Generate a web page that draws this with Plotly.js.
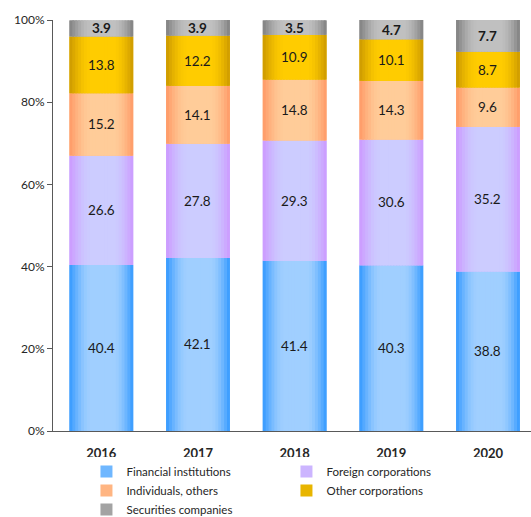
<!DOCTYPE html>
<html><head><meta charset="utf-8">
<script src="https://cdn.plot.ly/plotly-3.0.1.min.js"></script>
<style>html,body{margin:0;padding:0;background:#fff}#chart{width:531px;height:517px}</style>
</head><body><div id="chart"></div>
<script>
const years = ['2016', '2017', '2018', '2019', '2020'];
const financialInstitutions = [40.4, 42.1, 41.4, 40.3, 38.8];
const foreignCorporations = [26.6, 27.8, 29.3, 30.6, 35.2];
const individualsOthers = [15.2, 14.1, 14.8, 14.3, 9.6];
const otherCorporations = [13.8, 12.2, 10.9, 10.1, 8.7];
const securitiesCompanies = [3.9, 3.9, 3.5, 4.7, 7.7];
const seriesNames = ['Financial institutions', 'Foreign corporations', 'Individuals, others', 'Other corporations', 'Securities companies'];
const yTickVals = [0, 20, 40, 60, 80, 100];
const yTickText = ['0%', '20%', '40%', '60%', '80%', '100%'];
const seriesValues = [financialInstitutions, foreignCorporations, individualsOthers, otherCorporations, securitiesCompanies];

// style: [edge colour, centre colour] of each bar's horizontal gradient
const gradients = [
  [[51,153,255],[160,207,255]],
  [[204,153,255],[204,204,255]],
  [[255,153,102],[255,204,153]],
  [[204,153,0],[255,204,0]],
  [[128,128,128],[192,192,192]]
];
const BAR_W = 0.66, STRIPES = 22;
function rgb(c){return 'rgb('+c.map(Math.round).join(',')+')';}
function mix(a,b,f){return a.map((v,i)=>v+(b[i]-v)*f);}
function profile(t){ if(t<0.35) return Math.sin(t/0.35*Math.PI/2); if(t>0.68) return Math.sin((1-t)/0.32*Math.PI/2); return 1; }

const traces = [];
const annotations = [];
const cum = years.map(()=>0);
seriesValues.forEach((vals, s) => {
  const base = cum.slice();
  const g = gradients[s];
  traces.push({type:'bar', x:years, y:vals, base:base, name:seriesNames[s],
    width:BAR_W, marker:{color:rgb(mix(g[0],g[1],0.55)), line:{width:0}}, hoverinfo:'skip'});
  const w = BAR_W/STRIPES;
  for (let i=0;i<STRIPES;i++){
    const t=(i+0.5)/STRIPES;
    traces.push({type:'bar', x:years, y:vals, base:base, showlegend:false,
      width: i<STRIPES-1 ? w*1.6 : w, offset: -BAR_W/2 + i*w,
      marker:{color:rgb(mix(g[0],g[1],profile(t))), line:{width:0}}, hoverinfo:'skip'});
  }
  vals.forEach((v,k)=>{
    annotations.push({x:k, y:base[k]+v/2, xref:'x', yref:'y', showarrow:false,
      text: s===4 ? '<b>'+v.toFixed(1)+'</b>' : v.toFixed(1),
      font:{family:'Lato, sans-serif', size:13.5, color:'#1a1a1a'}});
    cum[k]+=v;
  });
});

const layout = {
  width:531, height:517,
  margin:{l:53, r:0, t:20, b:86},
  paper_bgcolor:'#fff', plot_bgcolor:'#fff',
  barmode:'overlay',
  font:{family:'Lato, sans-serif', color:'#262626'},
  xaxis:{type:'category', range:[-0.5,4.445], showgrid:false, zeroline:false,
    showline:true, linecolor:'#595959', linewidth:1, ticks:'', ticklabelstandoff:10,
    tickfont:{size:13, family:'Lato, sans-serif', weight:'bold', color:'#262626'}, fixedrange:true},
  yaxis:{range:[0,100], tickmode:'array', tickvals:yTickVals, ticktext:yTickText, showgrid:false, zeroline:false,
    showline:true, linecolor:'#595959', linewidth:1, ticks:'outside', ticklen:5, tickcolor:'#595959',
    tickfont:{size:12, color:'#262626'}, fixedrange:true},
  showlegend:true,
  legend:{orientation:'h', x:0.07, xanchor:'left', yref:'container', y:0.116, yanchor:'top', entrywidth:155,
    font:{size:11.5, color:'#262626'}, traceorder:'normal', itemwidth:30, tracegroupgap:0},
  annotations:annotations
};
Plotly.newPlot('chart', traces, layout, {staticPlot:true});
</script></body></html>
